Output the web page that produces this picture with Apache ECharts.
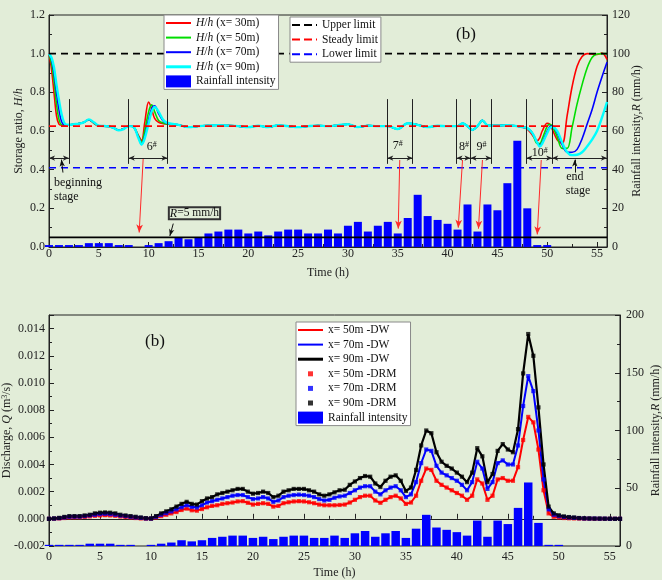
<!DOCTYPE html>
<html><head><meta charset="utf-8">
<script src="https://cdn.jsdelivr.net/npm/echarts@6/dist/echarts.min.js"></script>
<style>html,body{margin:0;padding:0;background:#e2edd8;}#c{width:662px;height:580px;}</style>
</head><body><div id="c"></div>
<script>
// ---------- DATA ----------
const rainHours = [0,1,2,3,4,5,6,7,8,9,10,11,12,13,14,15,16,17,18,19,20,21,22,23,24,25,26,27,28,29,30,31,32,33,34,35,36,37,38,39,40,41,42,43,44,45,46,47,48,49,50];
const rainValues = [1,1,1,1,2,2,2,1,1,0,1,2,3,5,4,5,7,8,9,9,7,8,6,8,9,9,7,7,9,7,11,13,8,11,13,7,15,27,16,14,12,9,22,8,22,19,33,55,20,1,1];

const tH = [0,0.25,0.5,0.75,1,1.25,1.5,1.75,2,2.5,3,3.5,4,4.5,5,6,6.5,7,7.5,8,8.5,9,9.3,9.6,10,10.3,10.6,11,11.5,
  12,13,14,15,16,17,18,19,20,21,22,23,24,25,26,27,28,29,30,31,32,33,34,35,36,37,38,39,40,41,41.5,42,42.5,43,43.5,44,45,46,47,47.5,
  48,48.5,49,49.25,49.5,50,50.25,50.5,51,51.5,52,52.5,53,53.5,54,54.5,55,55.5,56];
const hh30 = [1.0,0.92,0.8,0.68,0.635,0.63,0.63,0.63,0.632,0.635,0.638,0.645,0.658,0.64,0.625,0.624,0.615,0.605,0.612,0.626,0.62,0.575,0.55,0.64,0.75,0.715,0.665,0.645,0.638,
  0.635,0.632,0.62,0.625,0.628,0.63,0.628,0.625,0.62,0.627,0.62,0.63,0.625,0.62,0.625,0.628,0.625,0.63,0.635,0.62,0.628,0.625,0.625,0.61,0.64,0.632,0.62,0.627,0.625,0.625,0.64,0.625,0.605,0.625,0.655,0.63,0.628,0.63,0.625,0.62,
  0.61,0.58,0.55,0.565,0.6,0.64,0.635,0.61,0.555,0.535,0.68,0.83,0.935,0.985,1.0,0.998,0.996,1.003,0.97];
const hh50 = [1.0,0.95,0.86,0.74,0.66,0.632,0.63,0.63,0.632,0.635,0.638,0.645,0.658,0.642,0.626,0.624,0.615,0.605,0.612,0.626,0.62,0.57,0.54,0.6,0.7,0.735,0.7,0.655,0.64,
  0.635,0.632,0.62,0.625,0.628,0.63,0.628,0.625,0.62,0.627,0.62,0.63,0.625,0.62,0.625,0.628,0.625,0.63,0.635,0.62,0.628,0.625,0.625,0.61,0.64,0.632,0.62,0.627,0.625,0.625,0.64,0.625,0.605,0.625,0.655,0.63,0.628,0.63,0.625,0.62,
  0.615,0.59,0.535,0.535,0.56,0.625,0.635,0.625,0.57,0.51,0.51,0.62,0.74,0.84,0.925,0.98,0.998,1.0,1.0];
const hh70 = [1.0,0.97,0.9,0.8,0.71,0.65,0.632,0.63,0.632,0.635,0.638,0.645,0.658,0.643,0.627,0.624,0.615,0.605,0.612,0.626,0.62,0.565,0.53,0.57,0.66,0.715,0.73,0.69,0.65,
  0.638,0.632,0.62,0.625,0.628,0.63,0.628,0.625,0.62,0.627,0.62,0.63,0.625,0.62,0.625,0.628,0.625,0.63,0.635,0.62,0.628,0.625,0.625,0.61,0.64,0.632,0.62,0.627,0.625,0.625,0.64,0.625,0.605,0.625,0.655,0.63,0.628,0.63,0.625,0.62,
  0.615,0.59,0.54,0.527,0.54,0.6,0.622,0.625,0.59,0.53,0.49,0.49,0.505,0.56,0.635,0.71,0.8,0.88,0.956];
const hh90 = [1.0,0.98,0.93,0.84,0.76,0.69,0.645,0.632,0.632,0.635,0.638,0.645,0.66,0.645,0.628,0.624,0.615,0.603,0.61,0.625,0.62,0.56,0.53,0.56,0.64,0.7,0.725,0.7,0.655,
  0.64,0.632,0.62,0.625,0.628,0.63,0.628,0.625,0.62,0.627,0.62,0.63,0.625,0.62,0.625,0.628,0.625,0.63,0.635,0.62,0.628,0.625,0.625,0.61,0.64,0.632,0.62,0.627,0.625,0.625,0.64,0.625,0.605,0.625,0.655,0.63,0.628,0.63,0.625,0.62,
  0.615,0.59,0.54,0.52,0.535,0.59,0.615,0.62,0.6,0.54,0.49,0.475,0.477,0.49,0.52,0.555,0.6,0.67,0.75];

const limitX = [0, 56];
const upperLimit = [1.0, 1.0];
const steadyLimit = [0.625, 0.625];
const lowerLimit = [0.41, 0.41];
const rThreshold = [5, 5];

const tQ = [0,0.5,1,1.5,2,2.5,3,3.5,4,4.5,5,5.5,6,6.5,7,7.5,8,8.5,9,9.5,10,10.5,11,11.5,12,12.5,13,13.5,14,14.5,15,15.5,16,16.5,17,17.5,18,18.5,19,19.5,20,20.5,21,21.5,22,22.5,23,23.5,24,24.5,25,25.5,26,26.5,27,27.5,28,28.5,29,29.5,30,30.5,31,31.5,32,32.5,33,33.5,34,34.5,35,35.5,36,36.5,37,37.5,38,38.5,39,39.5,40,40.5,41,41.5,42,42.5,43,43.5,44,44.5,45,45.5,46,46.5,47,47.5,48,48.5,49,49.5,50,50.5,51,51.5,52,52.5,53,53.5,54,54.5,55,55.5,56];
const q90 = [0,0.00003,0.00007,0.00014,0.0002,0.0002,0.0002,0.00025,0.0003,0.0004,0.00045,0.00047,0.00045,0.0004,0.0003,0.00025,0.0002,0.00015,0.0001,0.00005,0.00003,0.0002,0.0004,0.00055,0.0007,0.0009,0.0011,0.00125,0.0011,0.00105,0.0013,0.0015,0.0016,0.0018,0.0019,0.002,0.0021,0.0022,0.0022,0.002,0.00185,0.0019,0.002,0.0019,0.0016,0.0017,0.002,0.0021,0.0022,0.0022,0.0022,0.0021,0.002,0.0018,0.0017,0.0018,0.00195,0.0021,0.00214,0.0025,0.00275,0.003,0.00315,0.0031,0.0026,0.00234,0.0028,0.0031,0.0032,0.0028,0.00205,0.0023,0.0036,0.0054,0.0065,0.0063,0.0049,0.0042,0.0039,0.0037,0.0034,0.0031,0.0027,0.0034,0.0052,0.0046,0.0027,0.0033,0.005,0.0055,0.0051,0.0049,0.0066,0.0107,0.0136,0.012,0.0082,0.004,0.0009,0.0004,0.00026,0.00018,0.00013,0.0001,0.00006,0.00004,0.00003,0.00002,0.00002,0.00001,0.00001,0,0];
const q70 = [0,0.00002,0.00005,0.0001,0.00015,0.00016,0.00016,0.0002,0.00025,0.0003,0.00035,0.00037,0.00035,0.0003,0.00024,0.0002,0.00015,0.0001,0.00007,0.00003,0.00002,0.00015,0.0003,0.00042,0.00055,0.0007,0.00085,0.001,0.00088,0.00083,0.001,0.0012,0.0013,0.0014,0.0015,0.0016,0.0017,0.00175,0.00175,0.0016,0.00145,0.0015,0.0016,0.0015,0.00125,0.00135,0.0016,0.0017,0.00175,0.00178,0.00175,0.0017,0.0016,0.00145,0.00135,0.0014,0.00155,0.00165,0.0017,0.0019,0.0021,0.0023,0.0024,0.0024,0.002,0.0018,0.0021,0.0023,0.0024,0.0021,0.0016,0.0018,0.0027,0.0041,0.0051,0.005,0.0039,0.0034,0.0032,0.003,0.0028,0.0025,0.0021,0.0027,0.0042,0.0037,0.0022,0.0027,0.0041,0.0043,0.004,0.004,0.0054,0.0083,0.0105,0.0094,0.0065,0.0029,0.0007,0.0003,0.0002,0.00013,0.0001,0.00007,0.00005,0.00003,0.00002,0.00002,0.00001,0.00001,0,0,0];
const q50 = [0,0.00001,0.00003,0.00006,0.0001,0.00011,0.00011,0.00014,0.00018,0.00022,0.00025,0.00027,0.00025,0.00022,0.00017,0.00013,0.0001,0.00006,0.00003,0.00001,0.00001,0.0001,0.0002,0.0003,0.0004,0.0005,0.00065,0.00075,0.00063,0.0006,0.00072,0.00085,0.00095,0.001,0.0011,0.00115,0.0012,0.00128,0.0013,0.00118,0.00105,0.0011,0.00115,0.0011,0.0009,0.00095,0.00115,0.00122,0.00128,0.0013,0.00128,0.00122,0.00115,0.00105,0.001,0.001,0.001,0.00102,0.00105,0.0012,0.0014,0.0016,0.0017,0.0017,0.00135,0.00118,0.0014,0.0016,0.0017,0.0015,0.0011,0.0012,0.0017,0.0028,0.0037,0.0036,0.0028,0.0025,0.0023,0.0021,0.0019,0.0017,0.0014,0.0017,0.0029,0.0026,0.0014,0.0017,0.0029,0.003,0.0028,0.0028,0.0038,0.0058,0.0075,0.0071,0.0051,0.0021,0.0004,0.00015,0.0001,0.00006,0.00004,0.00003,0.00002,0.00001,0.00001,0,0,0,0,0,0];

// annotation positions (data coordinates of the upper panel)
const stageBoundaries = [2, 8, 11.9, 33.95, 36.5, 40.9, 42.3, 44.4, 47.9, 50.5];
const boundaryRange = [0.43, 0.765];
const stageSpans = [[0,2],[8,11.9],[33.95,36.5],[40.9,42.3],[42.3,44.4],[47.9,50.5],[50.5,56]];
const spanY = 0.46;
const redArrows = [[[9.45,0.455],[9.05,0.075]],[[35.2,0.45],[35.05,0.095]],[[41.5,0.45],[41.07,0.1]],[[43.5,0.45],[43.1,0.095]],[[49.4,0.45],[49.0,0.065]]];
const blackArrows = [[[1.4,0.385],[1.25,0.452]],[[52.77,0.385],[52.77,0.452]],[[12.47,0.121],[12.13,0.057]]];
const stageLabels = [['6',10.3,0.517],['7',35.0,0.521],['8',41.65,0.517],['9',43.4,0.517],['10',49.25,0.486]];

// ---------- CHART ----------
const FONT = "'Liberation Serif','Times New Roman',serif";
const C = '#222';
const pairs = (xs, ys) => xs.map((x, i) => [x, ys[i]]);

const axisCommon = {
  axisLine: {show: true, lineStyle: {color: C, width: 1}},
  axisTick: {show: true, inside: true, length: 5, lineStyle: {color: C}},
  minorTick: {show: true, splitNumber: 2, length: 3, lineStyle: {color: C}},
  splitLine: {show: false},
  axisLabel: {color: C, fontFamily: FONT, fontSize: 12, margin: 4},
  nameTextStyle: {color: C, fontFamily: FONT, fontSize: 12},
  nameLocation: 'middle',
  nameMoveOverlap: false
};
const lbl = extra => Object.assign({}, axisCommon.axisLabel, extra);
const italic = {fontStyle: 'italic', fontFamily: FONT, fontSize: 12, color: C};
const italicL = {fontStyle: 'italic', fontFamily: FONT, fontSize: 11.5, color: '#111'};

const chart = echarts.init(document.getElementById('c'), null, {renderer: 'canvas'});

const ann = [];
stageBoundaries.forEach(x => ann.push([{coord: [x, boundaryRange[0]], symbol: 'none', lineStyle: {color: '#222', width: 1, type: 'solid'}}, {coord: [x, boundaryRange[1]], symbol: 'none'}]));
stageSpans.forEach(s => ann.push([{coord: [s[0], spanY], symbol: 'arrow', symbolSize: [4, 6], lineStyle: {color: '#222', width: 1, type: 'solid'}}, {coord: [s[1], spanY], symbol: 'arrow', symbolSize: [4, 6]}]));
redArrows.forEach(a => ann.push([{coord: a[0], symbol: 'none', lineStyle: {color: '#ff2a2a', width: 1, type: 'solid'}}, {coord: a[1], symbol: 'arrow', symbolSize: [5, 8], itemStyle: {color: '#ff2a2a'}}]));
blackArrows.forEach(a => ann.push([{coord: a[0], symbol: 'none', lineStyle: {color: '#111', width: 1, type: 'solid'}}, {coord: a[1], symbol: 'arrow', symbolSize: [4, 7], itemStyle: {color: '#111'}}]));

const hLine = (name, ys, color, w) => ({
  name, type: 'line', xAxisIndex: 0, yAxisIndex: 0, data: pairs(tH, ys), showSymbol: false, symbol: 'none',
  smooth: 0.35, lineStyle: {color, width: w}, itemStyle: {color}, animation: false, z: 3
});
const limLine = (name, ys, color, extra) => Object.assign({
  name, type: 'line', xAxisIndex: 0, yAxisIndex: 0, data: pairs(limitX, ys), symbol: 'none', showSymbol: false,
  lineStyle: {color, width: 1.6, type: [7, 5]}, itemStyle: {color}, animation: false, z: 4
}, extra || {});
const qLine = (name, ys, color, w) => ({
  name, type: 'line', xAxisIndex: 1, yAxisIndex: 2, data: pairs(tQ, ys), symbol: 'none', showSymbol: false,
  lineStyle: {color, width: w}, itemStyle: {color}, animation: false, z: 3
});
const qPts = (name, ys, color) => ({
  name, type: 'scatter', xAxisIndex: 1, yAxisIndex: 2, data: pairs(tQ, ys), symbol: 'rect', symbolSize: 4.2,
  itemStyle: {color}, animation: false, z: 4
});
// legend icon shapes (25 x 12 boxes)
const sqIcon = 'path://M0,0M25,12M10,3.5L15,3.5L15,8.5L10,8.5Z';
const lineIcon = 'path://M0,0M25,12M0,5L25,5L25,7L0,7Z';
const thickIcon = 'path://M0,0M25,12M0,4.5L25,4.5L25,7.5L0,7.5Z';
const dashIcon = 'path://M0,0M25,12M0,5L8,5L8,7L0,7Z M12,5L20,5L20,7L12,7Z M24,5L25,5L25,7L24,7Z';

const legendBase = {
  orient: 'vertical', selectedMode: false, itemWidth: 25, itemHeight: 12, itemGap: 0.6, z: 20,
  backgroundColor: '#ffffff', borderColor: '#8a8a8a', borderWidth: 1, padding: [1, 3, 1, 2],
  textStyle: {fontFamily: FONT, fontSize: 11.5, color: '#111', lineHeight: 14, rich: {i: italicL}}
};

chart.setOption({
  backgroundColor: '#e2edd8',
  animation: false,
  grid: [
    {left: 49, right: 55, top: 15, height: 232, show: true, borderColor: C, borderWidth: 1, backgroundColor: 'transparent', containLabel: false, outerBoundsMode: 'none'},
    {left: 49, right: 42, top: 315, height: 231, show: true, borderColor: C, borderWidth: 1, backgroundColor: 'transparent', containLabel: false, outerBoundsMode: 'none'}
  ],
  xAxis: [
    Object.assign({}, axisCommon, {gridIndex: 0, type: 'value', min: 0, max: 56, interval: 5, name: 'Time (h)', nameGap: 20,
      axisLabel: lbl({showMaxLabel: false, margin: 1})}),
    Object.assign({}, axisCommon, {gridIndex: 1, type: 'value', min: 0, max: 56, interval: 5, name: 'Time (h)', nameGap: 21,
      axisLabel: lbl({showMaxLabel: false, margin: 5})})
  ],
  yAxis: [
    Object.assign({}, axisCommon, {gridIndex: 0, type: 'value', position: 'left', min: 0, max: 1.2, interval: 0.2,
      name: 'Storage ratio, {i|H}/{i|h}', nameRotate: 90, nameGap: 24,
      nameTextStyle: Object.assign({}, axisCommon.nameTextStyle, {rich: {i: italic}}),
      axisLabel: lbl({formatter: v => v.toFixed(1)})}),
    Object.assign({}, axisCommon, {gridIndex: 0, type: 'value', position: 'right', min: 0, max: 120, interval: 20,
      name: 'Rainfall intensity,{i|R} (mm/h)', nameRotate: 90, nameGap: 24,
      nameTextStyle: Object.assign({}, axisCommon.nameTextStyle, {rich: {i: italic}}),
      axisLabel: lbl({margin: 5})}),
    Object.assign({}, axisCommon, {gridIndex: 1, type: 'value', position: 'left', min: -0.002, max: 0.015, interval: 0.002,
      name: 'Discharge, {i|Q} (m{s|3}/s)', nameRotate: 90, nameGap: 36,
      nameTextStyle: Object.assign({}, axisCommon.nameTextStyle, {rich: {i: italic, s: {fontFamily: FONT, fontSize: 8, color: C, verticalAlign: 'top', lineHeight: 10}}}),
      axisLabel: lbl({showMaxLabel: false, formatter: v => (Math.abs(v) < 1e-9 ? 0 : v).toFixed(3)})}),
    Object.assign({}, axisCommon, {gridIndex: 1, type: 'value', position: 'right', min: 0, max: 200, interval: 50,
      name: 'Rainfall intensity,{i|R} (mm/h)', nameRotate: 90, nameGap: 30,
      nameTextStyle: Object.assign({}, axisCommon.nameTextStyle, {rich: {i: italic}}),
      axisLabel: lbl({margin: 6})})
  ],
  legend: [
    Object.assign({}, legendBase, {left: 164, top: 15,
      data: [{name: 'H/h (x= 30m)', icon: lineIcon}, {name: 'H/h (x= 50m)', icon: lineIcon}, {name: 'H/h (x= 70m)', icon: lineIcon},
        {name: 'H/h (x= 90m)', icon: thickIcon}, {name: 'Rainfall intensity', icon: 'rect'}],
      formatter: n => n.replace('H/h', '{i|H}/{i|h}')}),
    Object.assign({}, legendBase, {left: 290, top: 17,
      data: [{name: 'Upper limit', icon: dashIcon}, {name: 'Steady limit', icon: dashIcon}, {name: 'Lower limit', icon: dashIcon}]}),
    Object.assign({}, legendBase, {left: 296, top: 322,
      data: [{name: 'x= 50m -DW', icon: lineIcon}, {name: 'x= 70m -DW', icon: lineIcon}, {name: 'x= 90m -DW', icon: thickIcon},
        {name: 'x= 50m -DRM', icon: sqIcon}, {name: 'x= 70m -DRM', icon: sqIcon}, {name: 'x= 90m -DRM', icon: sqIcon},
        {name: 'Rainfall intensity', icon: 'rect'}]})
  ],
  series: [
    {name: 'Rainfall intensity', type: 'bar', xAxisIndex: 0, yAxisIndex: 1, data: pairs(rainHours, rainValues),
      barWidth: 8, itemStyle: {color: '#0000ff'}, animation: false, z: 2},
    {name: 'R5', type: 'line', xAxisIndex: 0, yAxisIndex: 1, data: pairs(limitX, rThreshold), symbol: 'none',
      lineStyle: {color: '#000', width: 1.6}, animation: false, z: 3},
    hLine('H/h (x= 30m)', hh30, '#ff0000', 1.6),
    hLine('H/h (x= 50m)', hh50, '#00dd00', 1.6),
    hLine('H/h (x= 70m)', hh70, '#0000ff', 1.6),
    hLine('H/h (x= 90m)', hh90, '#00ffff', 2.4),
    limLine('Upper limit', upperLimit, '#000000', {markLine: {silent: true, animation: false, label: {show: false}, data: ann}}),
    limLine('Steady limit', steadyLimit, '#ff0000'),
    limLine('Lower limit', lowerLimit, '#0000ff'),
    {name: 'Rainfall intensity', type: 'bar', xAxisIndex: 1, yAxisIndex: 3, data: pairs(rainHours, rainValues),
      barWidth: 8.5, itemStyle: {color: '#0000ff'}, animation: false, z: 2},
    qLine('x= 50m -DW', q50, '#ff0000', 2),
    qLine('x= 70m -DW', q70, '#0000ff', 2),
    qLine('x= 90m -DW', q90, '#000000', 2.2),
    qPts('x= 50m -DRM', q50, '#ff0000'),
    qPts('x= 70m -DRM', q70, '#0000ff'),
    qPts('x= 90m -DRM', q90, '#000000')
  ]
});

// text annotations placed through the axes
const px = p => chart.convertToPixel({xAxisIndex: 0, yAxisIndex: 0}, p);
const txt = (p, text, align, extra) => {
  const q = px(p);
  return {type: 'text', x: q[0], y: q[1], silent: true, z: 50,
    style: Object.assign({text, font: '12px ' + FONT, fill: '#111', align: align || 'center', verticalAlign: 'middle',
      rich: {i: italic, s: {fontFamily: FONT, fontSize: 8, color: '#111', verticalAlign: 'top', lineHeight: 12}}}, extra || {})};
};
const graphics = [
  txt([0.5, 0.331], 'beginning', 'left'),
  txt([0.5, 0.259], 'stage', 'left'),
  txt([52.77, 0.362], 'end'),
  txt([53.1, 0.29], 'stage'),
  txt([14.6, 0.174], '{i|R}=5 mm/h', 'center', {font: '11.5px ' + FONT, backgroundColor: 'transparent', borderColor: '#333', borderWidth: 1, padding: [0, 1, 0, 1]})
];
stageLabels.forEach(s => graphics.push(txt([s[1], s[2]], s[0] + '{s|#}')));
graphics.push({type: 'text', x: 466, y: 35, silent: true, style: {text: '(b)', font: '17px ' + FONT, fill: '#111', align: 'center', verticalAlign: 'middle'}});
graphics.push({type: 'text', x: 155, y: 342, silent: true, style: {text: '(b)', font: '17px ' + FONT, fill: '#111', align: 'center', verticalAlign: 'middle'}});
chart.setOption({graphic: graphics});
</script>
</body></html>
